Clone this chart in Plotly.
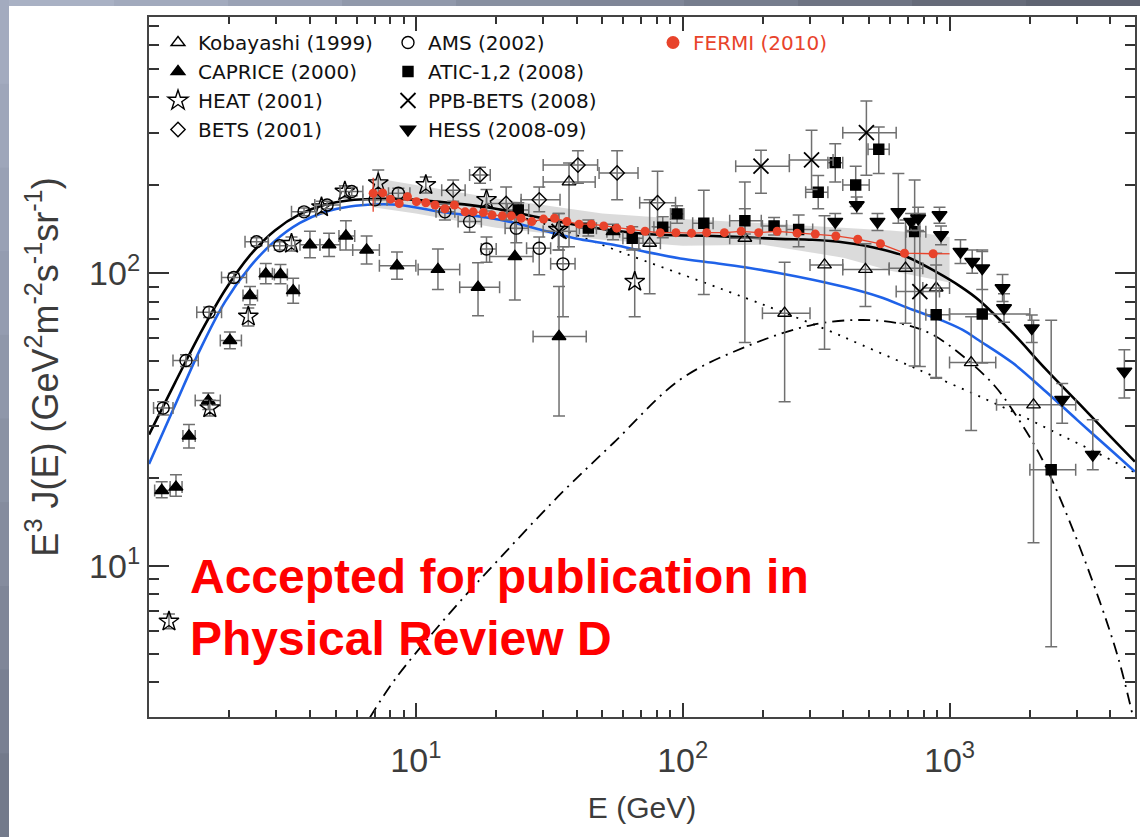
import plotly.graph_objects as go

W, H = 1140, 837
ML, MR, MT, MB = 149, 5, 17, 120
PW, PH = W - ML - MR, H - MT - MB


def px2x(px):
    return (px - ML) / PW


def py2y(py):
    return (H - MB - py) / PH


# ---------------- data ----------------
kob_e = [37.5, 75.2, 171, 241, 340, 484, 684, 891, 1205, 2064]
kob_v = [205, 126.5, 131.6, 73, 106.7, 103, 104, 89, 49.5, 35.5]
kob_vlo = [123, 85, 58, 36.4, 55, 77, 67.5, 44, 29, 12]
kob_vhi = [238, 178, 205, 109, 157, 126, 152, 117, 71, 69]
kob_elo = [30, 68.5, 150, 199, 300, 398, 594, 794, 1000, 1500]
kob_ehi = [47, 82.5, 195, 300, 398, 594, 794, 1000, 1490, 2970]

cap_e = [1.116, 1.262, 1.412, 1.668, 2.01, 2.39, 2.74, 3.11, 3.47, 4.01, 4.73, 5.47, 6.54, 8.50, 12.1, 17.1, 23.5, 34.4, 54.8]
cap_v = [18.1, 18.6, 27.8, 36.7, 58.9, 83.9, 99.5, 99, 87.2, 125, 125, 134, 120, 106, 103, 89.5, 114, 60.8, 138.6]
cap_vlo = [17.1, 17.3, 25.3, 34.2, 55.2, 78, 92, 92, 79, 113, 114, 120, 107.5, 95.3, 88, 71.5, 81, 32.5, 130]
cap_vhi = [19.4, 20.5, 30.4, 39, 63, 90, 108, 107, 96, 139, 137, 151, 134, 118, 121, 108.5, 157, 90, 147]
cap_elo = [1.05, 1.2, 1.34, 1.49, 1.85, 2.25, 2.6, 2.95, 3.3, 3.68, 4.37, 5.15, 5.8, 7.3, 10.2, 14.6, 18.9, 27.5, 52]
cap_ehi = [1.2, 1.33, 1.49, 1.85, 2.22, 2.55, 2.9, 3.3, 3.65, 4.37, 5.2, 5.9, 7.3, 10, 14.6, 20.6, 27.5, 43.5, 58]

heat_e = [1.188, 1.69, 2.356, 3.42, 4.43, 5.42, 7.23, 10.9, 18.4, 34.2, 66.1]
heat_v = [6.46, 34.6, 71.1, 126, 168, 190, 203, 200, 178, 140.7, 93.5]
heat_vlo = [6.1, 32.5, 66, 119, 160, 181, 182, 188, 163, 120, 71]
heat_vhi = [6.85, 36.8, 76, 133, 176, 199, 225, 213, 193, 160, 121]

bets_e = [13.8, 17.4, 21.8, 29.0, 40.5, 56.8, 80.5]
bets_v = [192, 216.5, 173, 178, 234, 220, 174]
bets_vlo = [176, 203, 152, 162, 203, 178, 144]
bets_vhi = [208, 230, 197, 197, 262, 262, 223]
bets_elo = [12.5, 15.9, 18.4, 24.8, 30, 48.6, 69]
bets_ehi = [15.3, 19, 24.8, 34.7, 48, 68, 94]

ams_e = [1.13, 1.376, 1.68, 2.08, 2.53, 3.09, 3.81, 4.65, 5.75, 7.03, 8.6, 12.85, 15.9, 18.4, 23.8, 29.0, 35.6]
ams_v = [34.6, 50.3, 73.6, 96.6, 128, 124, 162, 171, 190, 178, 187.5, 162, 150, 121, 142.5, 121.6, 107.6]
ams_vlo = [32.8, 48, 70.5, 93, 124, 120, 157, 166, 184, 171, 180, 152, 138, 109, 127, 98.8, 71]
ams_vhi = [36.4, 52.6, 76.7, 100, 132, 128, 167, 176, 196, 185, 195, 172, 162, 133, 158, 133, 123]
ams_elo = [1.04, 1.23, 1.51, 1.87, 2.29, 2.8, 3.42, 4.18, 5.2, 6.33, 7.9, 11.9, 14.4, 17.6, 21.6, 26, 32]
ams_ehi = [1.23, 1.53, 1.87, 2.32, 2.8, 3.52, 4.24, 5.2, 6.33, 7.8, 9.5, 14, 17.6, 20, 26.4, 32, 39.5]

atic_e = [24.2, 44.3, 64.7, 84.2, 95.3, 120, 171, 220, 272, 322, 373, 445, 543, 740, 891, 1326, 2404]
atic_v = [164.4, 142.5, 131.6, 143.5, 159.4, 148, 151, 145, 141, 189, 238.5, 200, 265, 138.6, 72.1, 72.5, 21.3]
atic_vlo = [155, 134, 120, 132, 148, 84.6, 136, 135, 123, 166, 205, 169, 219, 48.2, 43.8, 49.3, 5.3]
atic_vhi = [174, 152, 144, 156, 170, 192, 166, 155, 158, 215.6, 277, 232, 316, 208, 106.6, 118.5, 69]
atic_elo = [22, 41, 59.7, 78, 90, 109, 150, 199, 245, 289, 350, 398, 495, 687, 815, 1000, 2000]
atic_ehi = [26.5, 47.5, 71, 90, 101, 130, 197, 245, 307, 350, 398, 500, 594, 815, 1000, 2000, 2970]

ppb_e = [34.4, 196.5, 304, 488, 774]
ppb_v = [139, 232, 243.6, 302, 86.5]
ppb_vlo = [120, 187.5, 193, 216, 48]
ppb_vhi = [160, 263, 308, 387, 160]
ppb_elo = [30, 158, 251, 398, 631]
ppb_ehi = [40, 251, 366, 631, 917]

hess_e = [373, 449, 537, 643, 718, 763, 917, 929, 1099, 1216, 1326, 1580, 1600, 2033, 2643, 3442, 4520]
hess_v = [150, 171, 150, 162, 150, 154, 158, 135, 118.5, 109.5, 104, 89, 76, 64.9, 37, 24, 46.2]
hess_vlo = [140, 160, 140, 148, 140, 140, 148, 125, 108, 100, 88, 80, 68, 58, 30.7, 21.3, 37.5]
hess_vhi = [160, 182, 160, 219, 160, 168, 168, 145, 130, 120, 120, 99, 85, 72, 42, 31.6, 54.8]

fermi_e = [6.92, 7.51, 8.04, 8.66, 9.3, 10.05, 10.9, 11.8, 12.85, 13.95, 15.3, 16.4, 17.9, 19.3,
           21.1, 22.8, 24.8, 27.2, 30.1, 33.1, 36.8, 40.9, 45.5, 50.6, 56.6, 63.9, 72.3, 82.3,
           94.3, 107.9, 123, 143.3, 165.6, 192.6, 226, 268.5, 314, 375, 453, 551, 678, 868]
fermi_v = [187.5, 188, 179, 173, 182.5, 175.5, 174, 171, 166, 171, 162, 162, 161, 158,
           157, 157, 154, 150, 153, 154, 150, 147, 147, 145, 142.5, 141, 139, 137.5,
           137.5, 137, 137.5, 137.5, 139, 137.5, 139, 137, 136, 134, 130.6, 126, 117, 116.5]

band_e = [6.9, 10, 20, 50, 100, 200, 400, 600, 800, 1000]
band_hi = [212, 200, 180, 160, 153, 148, 143, 140, 137, 133]
band_lo = [168, 160, 143, 130, 124, 125, 113, 102, 97, 93]

blk_e = [1, 1.251, 1.552, 1.926, 2.389, 2.964, 3.678, 4.562, 5.66, 7.02, 8.71, 10, 18.4, 24.6, 40, 73,
         130, 229, 307, 409, 550, 687, 891, 1100, 1287, 1727, 2289, 3034, 4022, 4950]
blk_v = [28.1, 42.2, 61.9, 87.4, 115.0, 140.0, 159.0, 171.3, 177.5, 179.3, 179.3, 178, 168, 160, 146, 136,
         134, 131, 130, 127, 121, 114, 101, 90, 81, 62.4, 47.1, 36.1, 27.6, 22.7]

blu_e = [1, 1.251, 1.552, 1.926, 2.389, 2.964, 3.678, 4.562, 5.66, 7.02, 8.71, 12.3, 18.4, 23.1, 30.9,
         41.2, 55, 73.5, 97.9, 130, 173.6, 231, 307, 409, 545, 727, 891, 1120, 1287, 1727, 2289, 3034,
         4022, 4950]
blu_v = [22.3, 35.3, 54.7, 79.8, 105.1, 128.9, 148.5, 161.9, 169, 171.7, 171, 162, 155, 149, 139,
         130.6, 125, 118, 112.3, 108.5, 104.5, 100, 95, 89.5, 83.1, 75, 70.2, 64, 59, 49.3, 39.5, 31.3,
         24.9, 21.0]

dot_e = [20.6, 26.7, 34.6, 61.2, 115.8, 173.7, 230.9, 346.2, 472.3, 690, 863.8, 1158, 1500, 1993, 2650,
         3553, 4974]
dot_v = [160.6, 152.6, 141.6, 116.4, 94.1, 82.0, 74.3, 64.1, 56.7, 48.8, 44.6, 39.7, 35.7, 31.6, 27.8,
         24.4, 20.8]

dd_e = [6.72, 8.34, 13.4, 20.6, 34.2, 55, 97.9, 173.6, 307, 474, 687, 868, 1145, 1483, 1818, 2226,
        2800, 3630, 4300, 4850]
dd_v = [3.03, 4.09, 6.9, 10.6, 17.3, 26.3, 43.3, 56.2, 66.6, 69.2, 66.6, 61.5, 51.3, 41, 31.6, 23.1,
        14.4, 7.7, 4.8, 3.1]

x_major = [10, 100, 1000]
x_major_text = ["10<sup>1</sup>", "10<sup>2</sup>", "10<sup>3</sup>"]
x_minor = [2, 3, 4, 5, 6, 7, 8, 9, 20, 30, 40, 50, 60, 70, 80, 90,
           200, 300, 400, 500, 600, 700, 800, 900, 2000, 3000, 4000]
y_major = [10, 100]
y_major_text = ["10<sup>1</sup>", "10<sup>2</sup>"]
y_minor = [4, 5, 6, 7, 8, 9, 20, 30, 40, 50, 60, 70, 80, 90, 200, 300, 400, 500, 600, 700]

# ---------------- styling ----------------
ERR_C = "#707070"
FERMI_C = "#e8432b"
BLUE_C = "#1f62e8"
LEG_FONT = "DejaVu Sans"


def err(v, lo, hi, color=ERR_C, width=6, thick=1.5):
    return dict(type="data", symmetric=False,
                array=[None if h is None else h - x for x, h in zip(v, hi)],
                arrayminus=[None if l is None else x - l for x, l in zip(v, lo)],
                color=color, thickness=thick, width=width)


fig = go.Figure()

# Fermi systematic band
fig.add_trace(go.Scatter(x=band_e + band_e[::-1], y=band_hi + band_lo[::-1], fill="toself",
                         fillcolor="rgba(175,175,175,0.45)", line=dict(width=0),
                         mode="lines", showlegend=False, hoverinfo="skip"))

# model curves
fig.add_trace(go.Scatter(x=dd_e, y=dd_v, mode="lines",
                         line=dict(color="black", width=1.8, dash="12px,6px,2px,6px", shape="spline"),
                         showlegend=False))
fig.add_trace(go.Scatter(x=dot_e, y=dot_v, mode="lines",
                         line=dict(color="black", width=1.8, dash="2px,7px", shape="spline"),
                         showlegend=False))
fig.add_trace(go.Scatter(x=blu_e, y=blu_v, mode="lines", line=dict(color=BLUE_C, width=2.6, shape="spline"),
                         showlegend=False))
fig.add_trace(go.Scatter(x=blk_e, y=blk_v, mode="lines", line=dict(color="black", width=2.6, shape="spline"),
                         showlegend=False))


def series(name, e, v, symbol, size, ey=None, ex=None, legend="legend", lw=1.4):
    fig.add_trace(go.Scatter(
        x=e, y=v, mode="markers", name=name, legend=legend,
        marker=dict(symbol=symbol, size=size, color="black", line=dict(color="black", width=lw)),
        error_y=ey, error_x=ex))


series("Kobayashi (1999)", kob_e, kob_v, "triangle-up-open", 12,
       err(kob_v, kob_vlo, kob_vhi), err(kob_e, kob_elo, kob_ehi))
series("CAPRICE (2000)", cap_e, cap_v, "triangle-up", 12,
       err(cap_v, cap_vlo, cap_vhi), err(cap_e, cap_elo, cap_ehi))
series("HEAT (2001)", heat_e, heat_v, "star-open", 15,
       err(heat_v, heat_vlo, heat_vhi), None)
series("BETS (2001)", bets_e, bets_v, "diamond-open", 11,
       err(bets_v, bets_vlo, bets_vhi), err(bets_e, bets_elo, bets_ehi))
series("AMS (2002)", ams_e, ams_v, "circle-open", 12,
       err(ams_v, ams_vlo, ams_vhi), err(ams_e, ams_elo, ams_ehi), legend="legend2")
series("ATIC-1,2 (2008)", atic_e, atic_v, "square", 10,
       err(atic_v, atic_vlo, atic_vhi), err(atic_e, atic_elo, atic_ehi), legend="legend2")
series("PPB-BETS (2008)", ppb_e, ppb_v, "x-thin-open", 15,
       err(ppb_v, ppb_vlo, ppb_vhi), err(ppb_e, ppb_elo, ppb_ehi), legend="legend2", lw=1.8)
series("HESS (2008-09)", hess_e, hess_v, "triangle-down", 13,
       err(hess_v, hess_vlo, hess_vhi), None, legend="legend2")

# Fermi
fermi_vhi = [212] + [None] * (len(fermi_v) - 1)
fermi_vlo = [162] + [None] * (len(fermi_v) - 1)
fermi_ehi = [None] * (len(fermi_e) - 1) + [1000]
fermi_elo = [None] * (len(fermi_e) - 1) + [868]
fig.add_trace(go.Scatter(x=fermi_e, y=fermi_v, mode="lines", line=dict(color=FERMI_C, width=1.3),
                         showlegend=False))
fig.add_trace(go.Scatter(
    x=fermi_e, y=fermi_v, mode="markers", name="FERMI (2010)", showlegend=False,
    marker=dict(symbol="circle", size=9, color=FERMI_C),
    error_y=err(fermi_v, fermi_vlo, fermi_vhi, FERMI_C, 0, 1.3),
    error_x=err(fermi_e, fermi_elo, fermi_ehi, FERMI_C, 0, 1.3)))
# legend entry for Fermi (larger symbol as in the key)
fig.add_trace(go.Scatter(x=[None], y=[None], mode="markers", name="FERMI (2010)", legend="legend3",
                         marker=dict(symbol="circle", size=13, color=FERMI_C)))

# ---------------- background strips (slide) ----------------
shapes = []
top_cols = ["#a9b1c4", "#a2aabd", "#9aa2b5", "#9199ab", "#8890a1", "#7f8697", "#767d8d", "#6e7483",
            "#666b79", "#5f6472"]
n = len(top_cols)
for i, c in enumerate(top_cols):
    shapes.append(dict(type="rect", xref="paper", yref="paper", layer="below",
                       x0=px2x(W * i / n), x1=px2x(W * (i + 1) / n + 1), y0=py2y(6), y1=py2y(0),
                       fillcolor=c, line=dict(width=0)))
left_cols = ["#a3abbf", "#9ea6ba", "#99a1b5", "#949cb0", "#8f97aa", "#8a92a4", "#858c9e", "#7f8698",
             "#798092", "#737a8b"]
n = len(left_cols)
for i, c in enumerate(left_cols):
    shapes.append(dict(type="rect", xref="paper", yref="paper", layer="below",
                       x0=px2x(0), x1=px2x(9), y0=py2y(H * (i + 1) / n + 1), y1=py2y(H * i / n),
                       fillcolor=c, line=dict(width=0)))

AX_FONT = dict(family="Liberation Sans, Arial, sans-serif", color="#3c3c3c")
leg_common = dict(xanchor="left", yanchor="top", bgcolor="rgba(0,0,0,0)", itemwidth=30, tracegroupgap=0)

fig.update_layout(
    width=W, height=H,
    margin=dict(l=ML, r=MR, t=MT, b=MB, autoexpand=False),
    paper_bgcolor="white", plot_bgcolor="white",
    shapes=shapes,
    xaxis=dict(type="log", range=[0, 3.695], showgrid=False, zeroline=False,
               showline=True, linecolor="#444", linewidth=2, mirror="ticks",
               ticks="inside", ticklen=14, tickwidth=1.5, tickcolor="#333",
               tickmode="array", tickvals=x_major, ticktext=x_major_text, ticklabelstandoff=12,
               tickfont=dict(size=34, **AX_FONT),
               minor=dict(tickmode="array", tickvals=x_minor, ticks="inside", ticklen=7,
                          tickwidth=1.5, tickcolor="#333", showgrid=False),
               title=dict(text="E (GeV)", font=dict(size=30, **AX_FONT), standoff=19)),
    yaxis=dict(type="log", range=[0.484, 2.875], showgrid=False, zeroline=False,
               showline=True, linecolor="#444", linewidth=2, mirror="ticks",
               ticks="inside", ticklen=20, tickwidth=1.5, tickcolor="#333",
               tickmode="array", tickvals=y_major, ticktext=y_major_text,
               tickfont=dict(size=34, **AX_FONT),
               minor=dict(tickmode="array", tickvals=y_minor, ticks="inside", ticklen=10,
                          tickwidth=1.5, tickcolor="#333", showgrid=False),
               title=dict(text="E<sup>3</sup> J(E) (GeV<sup>2</sup>m<sup>-2</sup>s<sup>-1</sup>sr<sup>-1</sup>)",
                          font=dict(size=36, **AX_FONT), standoff=20)),
    legend=dict(x=px2x(158), y=py2y(23), font=dict(family=LEG_FONT, size=20, color="#111"), **leg_common),
    legend2=dict(x=px2x(388), y=py2y(23), font=dict(family=LEG_FONT, size=20, color="#111"), **leg_common),
    legend3=dict(x=px2x(653), y=py2y(23), font=dict(family=LEG_FONT, size=20, color=FERMI_C), **leg_common),
    annotations=[dict(text="<b>Accepted for publication in<br>Physical Review D</b>",
                      xref="paper", yref="paper", x=px2x(188), y=py2y(607),
                      xanchor="left", yanchor="middle", align="left", showarrow=False,
                      font=dict(family="Liberation Sans, Arial, sans-serif", size=48, color="#ff0000"))],
)

fig.write_html("out.html")
